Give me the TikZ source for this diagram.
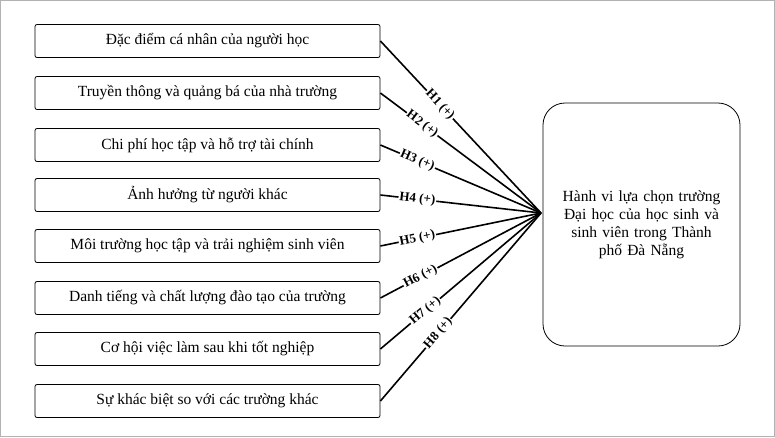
\documentclass[tikz,border=0pt]{standalone}
\usepackage{fontspec}
\setmainfont{Liberation Serif}
\begin{document}
\begin{tikzpicture}[x=1pt,y=-1pt,
  lbox/.style={draw,line width=0.8pt,rounded corners=2pt,minimum width=345pt,minimum height=33pt,font=\fontsize{15.5}{18}\selectfont,inner sep=0pt},
  lab/.style={sloped,fill=white,font=\bfseries\fontsize{13}{15}\selectfont,inner sep=1pt},
  ln/.style={line width=1.6pt}]
\draw[gray!60] (0.5,0.5) rectangle (774.5,436.5);
\useasboundingbox (0,0) rectangle (775,437);
\node[lbox] (b1) at (207.5,41) {Đặc điểm cá nhân của người học};
\node[lbox] (b2) at (207.5,93) {Truyền thông và quảng bá của nhà trường};
\node[lbox] (b3) at (207.5,145) {Chi phí học tập và hỗ trợ tài chính};
\node[lbox] (b4) at (207.5,195) {Ảnh hưởng từ người khác};
\node[lbox] (b5) at (207.5,246) {Môi trường học tập và trải nghiệm sinh viên};
\node[lbox] (b6) at (207.5,298) {Danh tiếng và chất lượng đào tạo của trường};
\node[lbox] (b7) at (207.5,349) {Cơ hội việc làm sau khi tốt nghiệp};
\node[lbox] (b8) at (207.5,401) {Sự khác biệt so với các trường khác};
\node[draw,line width=0.8pt,rounded corners=22pt,minimum width=197pt,minimum height=243pt,align=center,
  font=\fontsize{15.5}{18}\selectfont,text width=185pt] (r) at (641.5,224.5)
  {Hành vi lựa chọn trường\\Đại học của học sinh và\\sinh viên trong Thành\\phố Đà Nẵng};
\coordinate (c) at (541,213);
\foreach \i/\p in {1/0.37,2/0.26,3/0.23,4/0.23,5/0.23,6/0.25,7/0.28,8/0.36}{
  \draw[ln] (b\i.east) -- (c) node[lab,pos=\p] {H\i{} (+)};
}
\end{tikzpicture}
\end{document}
